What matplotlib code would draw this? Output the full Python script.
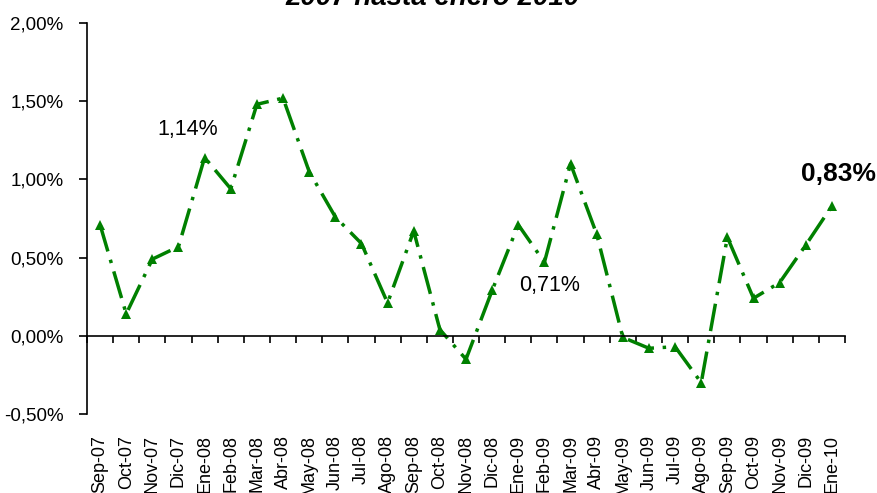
import matplotlib.pyplot as plt
import numpy as np

plt.rcParams['font.family'] = ['Liberation Sans', 'DejaVu Sans']

# monthly values (%), Sep-07 .. Ene-10
months = ['Sep-07', 'Oct-07', 'Nov-07', 'Dic-07',
          'Ene-08', 'Feb-08', 'Mar-08', 'Abr-08', 'May-08', 'Jun-08',
          'Jul-08', 'Ago-08', 'Sep-08', 'Oct-08', 'Nov-08', 'Dic-08',
          'Ene-09', 'Feb-09', 'Mar-09', 'Abr-09', 'May-09', 'Jun-09',
          'Jul-09', 'Ago-09', 'Sep-09', 'Oct-09', 'Nov-09', 'Dic-09',
          'Ene-10']
values = [0.71, 0.14, 0.49, 0.57,
          1.14, 0.94, 1.48, 1.52, 1.05, 0.76,
          0.59, 0.21, 0.67, 0.04, -0.15, 0.29,
          0.71, 0.47, 1.10, 0.65, -0.01, -0.08,
          -0.07, -0.30, 0.63, 0.24, 0.34, 0.58,
          0.83]
y_ticks = [-0.5, 0.0, 0.5, 1.0, 1.5, 2.0]
y_labels = ['-0,50%', '0,00%', '0,50%', '1,00%', '1,50%', '2,00%']

# labelled points: (month, text, offset in pixels, bold)
callouts = [('Ene-08', '1,14%', (-17, 28), False),
            ('Ene-09', '0,71%', (31, -61), False),
            ('Ene-10', '0,83%', (7, 32), True)]

green = '#008000'
x = np.arange(len(months))

fig = plt.figure(figsize=(8.78, 4.93), dpi=100)
ax = fig.add_axes([0.0991, 0.1603, 0.8633, 0.7930])

ax.plot(x, values, color=green, lw=2.5, linestyle=(0, (8, 2.5, 1, 2.5)),
        marker='^', markersize=7, markeredgewidth=0)

ax.set_xlim(-0.5, len(months) - 0.5)
ax.set_ylim(-0.5, 2.0)

ax.spines['top'].set_visible(False)
ax.spines['right'].set_visible(False)
ax.spines['bottom'].set_position(('data', 0))
ax.spines['left'].set_linewidth(1.2)
ax.spines['bottom'].set_linewidth(1.2)

ax.set_yticks(y_ticks)
ax.set_yticklabels(y_labels)
ax.tick_params(axis='y', direction='out', length=6, width=1.2, pad=11,
               labelsize=13.5)

# boundary ticks on the zero line
ax.set_xticks(np.arange(len(months) + 1) - 0.5)
ax.set_xticklabels([])
ax.tick_params(axis='x', direction='out', length=5, width=1.2)

# category labels along the bottom
sec = ax.secondary_xaxis('bottom')
sec.set_xticks(x)
sec.set_xticklabels(months, rotation=90, fontsize=13)
sec.tick_params(length=0, pad=15)
sec.spines['bottom'].set_visible(False)

for month, text, off, bold in callouts:
    i = months.index(month)
    ax.annotate(text, (x[i], values[i]), xytext=off, textcoords='offset pixels',
                ha='center', va='center', fontsize=19 if bold else 15.5,
                fontweight='bold' if bold else 'normal')

fig.text(0.493, 0.989, '2007 hasta enero 2010', ha='center', va='baseline',
         fontsize=20, fontweight='bold', fontstyle='italic')

fig.savefig('out.png', dpi=100)
